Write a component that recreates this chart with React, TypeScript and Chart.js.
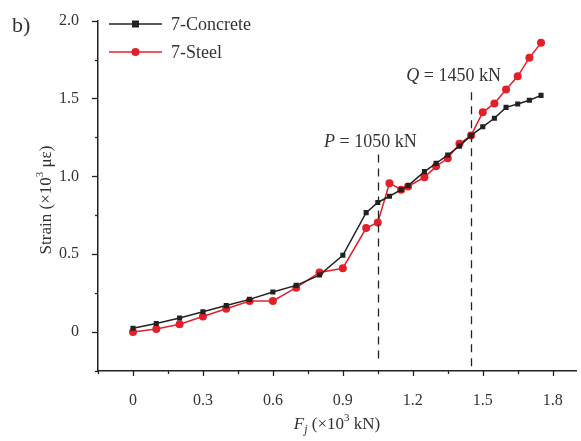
import React, { useEffect, useRef } from 'react';
import { Chart, registerables } from 'chart.js';

Chart.register(...registerables);

// Load F_j (x10^3 kN)
const loads = [0, 0.1, 0.2, 0.3, 0.4, 0.5, 0.6, 0.7, 0.8, 0.9, 1.0, 1.05, 1.1, 1.15, 1.18, 1.25, 1.3, 1.35, 1.4, 1.45, 1.5, 1.55, 1.6, 1.65, 1.7, 1.75];
// Strain (x10^3 microstrain)
const concrete = [0.025, 0.055, 0.09, 0.13, 0.17, 0.21, 0.257, 0.3, 0.366, 0.493, 0.767, 0.832, 0.872, 0.914, 0.941, 1.03, 1.083, 1.137, 1.194, 1.263, 1.318, 1.373, 1.443, 1.464, 1.489, 1.52];
const steel = [0.0, 0.02, 0.05, 0.1, 0.15, 0.2, 0.2, 0.285, 0.383, 0.41, 0.668, 0.704, 0.956, 0.914, 0.935, 0.994, 1.064, 1.116, 1.209, 1.263, 1.411, 1.468, 1.558, 1.642, 1.762, 1.857];

const seriesNames = ['7-Concrete', '7-Steel'];
const xMajorTicks = [0, 0.3, 0.6, 0.9, 1.2, 1.5, 1.8];
const xMinorTicks = [-0.15, 0.15, 0.45, 0.75, 1.05, 1.35, 1.65];
const yMajorTicks = [0, 0.5, 1.0, 1.5, 2.0];
const yMinorTicks = [-0.25, 0.25, 0.75, 1.25, 1.75];
const xTickLabels = ['0', '0.3', '0.6', '0.9', '1.2', '1.5', '1.8'];
const yTickLabels = ['0', '0.5', '1.0', '1.5', '2.0'];

// Marker lines: load value, top strain, bottom strain
const markerLoads = [1.05, 1.45];
const markerTops = [1.14, 1.54];
const markerBottoms = [-0.17, -0.25];
const markerLetters = ['P', 'Q'];
const markerTexts = [' = 1050 kN', ' = 1450 kN'];
const markerLabelX = [1.018, 1.375];
const markerLabelY = [1.19, 1.61];

const FONT = '"Liberation Serif", "Times New Roman", serif';
const BLACK = '#222222';
const RED = '#e3202a';
const TEXT = '#333333';

const decorPlugin = {
  id: 'decor',
  afterDraw(chart: any) {
    const ctx = chart.ctx as CanvasRenderingContext2D;
    const xs = chart.scales.x;
    const ys = chart.scales.y;
    const area = chart.chartArea;
    ctx.save();
    // tick marks
    ctx.strokeStyle = BLACK;
    ctx.lineWidth = 1.3;
    const drawX = (v: number, len: number) => {
      const px = Math.round(xs.getPixelForValue(v)) + 0.5;
      ctx.beginPath();
      ctx.moveTo(px, area.bottom);
      ctx.lineTo(px, area.bottom + len);
      ctx.stroke();
    };
    const drawY = (v: number, len: number) => {
      const py = Math.round(ys.getPixelForValue(v)) + 0.5;
      ctx.beginPath();
      ctx.moveTo(area.left, py);
      ctx.lineTo(area.left - len, py);
      ctx.stroke();
    };
    xMajorTicks.forEach((v) => drawX(v, 5));
    xMinorTicks.forEach((v) => drawX(v, 3));
    yMajorTicks.forEach((v) => drawY(v, 6));
    yMinorTicks.forEach((v) => drawY(v, 3));

    // dashed marker lines
    ctx.setLineDash([8, 6]);
    ctx.lineWidth = 1.3;
    ctx.strokeStyle = BLACK;
    markerLoads.forEach((v, i) => {
      const px = Math.round(xs.getPixelForValue(v)) + 0.5;
      ctx.beginPath();
      ctx.moveTo(px, ys.getPixelForValue(markerTops[i]));
      ctx.lineTo(px, ys.getPixelForValue(markerBottoms[i]));
      ctx.stroke();
    });
    ctx.setLineDash([]);

    // marker labels
    ctx.fillStyle = TEXT;
    ctx.textBaseline = 'alphabetic';
    markerLoads.forEach((_, i) => {
      const italic = 'italic 18px ' + FONT;
      const normal = '18px ' + FONT;
      ctx.font = italic;
      const w1 = ctx.measureText(markerLetters[i]).width;
      ctx.font = normal;
      const w2 = ctx.measureText(markerTexts[i]).width;
      const cx = xs.getPixelForValue(markerLabelX[i]);
      const by = ys.getPixelForValue(markerLabelY[i]);
      const x0 = cx - (w1 + w2) / 2;
      ctx.textAlign = 'left';
      ctx.font = italic;
      ctx.fillText(markerLetters[i], x0, by);
      ctx.font = normal;
      ctx.fillText(markerTexts[i], x0 + w1, by);
    });

    // legend
    const legendRows = [
      { y: 24, color: BLACK, style: 'rect' },
      { y: 52, color: RED, style: 'circle' },
    ];
    legendRows.forEach((r, i) => {
      ctx.strokeStyle = r.color;
      ctx.fillStyle = r.color;
      ctx.lineWidth = 1.5;
      ctx.beginPath();
      ctx.moveTo(109, r.y);
      ctx.lineTo(162, r.y);
      ctx.stroke();
      if (r.style === 'rect') {
        ctx.fillRect(135.5 - 3.5, r.y - 3.5, 7, 7);
      } else {
        ctx.beginPath();
        ctx.arc(135.5, r.y, 4, 0, Math.PI * 2);
        ctx.fill();
      }
      ctx.fillStyle = TEXT;
      ctx.font = '18px ' + FONT;
      ctx.textAlign = 'left';
      ctx.textBaseline = 'middle';
      ctx.fillText(seriesNames[i], 171, r.y + 1);
    });

    // panel label
    ctx.fillStyle = TEXT;
    ctx.font = '22px ' + FONT;
    ctx.textAlign = 'left';
    ctx.textBaseline = 'alphabetic';
    ctx.fillText('b)', 12, 32);

    // x axis title: F_j (×10^3 kN)
    {
      const parts = [
        { t: 'F', f: 'italic 17px ' + FONT, dy: 0 },
        { t: 'j', f: 'italic 12px ' + FONT, dy: 4 },
        { t: ' (×10', f: '17px ' + FONT, dy: 0 },
        { t: '3', f: '11px ' + FONT, dy: -8 },
        { t: ' kN)', f: '17px ' + FONT, dy: 0 },
      ];
      let total = 0;
      const widths = parts.map((p) => {
        ctx.font = p.f;
        const w = ctx.measureText(p.t).width;
        total += w;
        return w;
      });
      let x = (area.left + area.right) / 2 - total / 2;
      const by = 429;
      ctx.textAlign = 'left';
      parts.forEach((p, i) => {
        ctx.font = p.f;
        ctx.fillText(p.t, x, by + p.dy);
        x += widths[i];
      });
    }

    // y axis title: Strain (×10^3 με)
    {
      const parts = [
        { t: 'Strain (×10', f: '17px ' + FONT, dy: 0 },
        { t: '3', f: '11px ' + FONT, dy: -8 },
        { t: ' με)', f: '17px ' + FONT, dy: 0 },
      ];
      let total = 0;
      const widths = parts.map((p) => {
        ctx.font = p.f;
        const w = ctx.measureText(p.t).width;
        total += w;
        return w;
      });
      ctx.save();
      ctx.translate(51, 200);
      ctx.rotate(-Math.PI / 2);
      let x = -total / 2;
      ctx.textAlign = 'left';
      parts.forEach((p, i) => {
        ctx.font = p.f;
        ctx.fillText(p.t, x, p.dy);
        x += widths[i];
      });
      ctx.restore();
    }
    ctx.restore();
  },
};

function fmt(list: number[], labels: string[], v: number) {
  const i = list.findIndex((t) => Math.abs(t - v) < 1e-6);
  return i >= 0 ? labels[i] : '';
}

export default function App() {
  const ref = useRef<HTMLCanvasElement | null>(null);
  useEffect(() => {
    if (!ref.current) return;
    const chart = new Chart(ref.current, {
      type: 'line',
      data: {
        datasets: [
          {
            label: seriesNames[0],
            data: loads.map((x, i) => ({ x, y: concrete[i] })),
            borderColor: BLACK,
            backgroundColor: BLACK,
            borderWidth: 1.5,
            pointStyle: 'rect',
            pointRadius: 3.6,
            pointBorderWidth: 0,
          },
          {
            label: seriesNames[1],
            data: loads.map((x, i) => ({ x, y: steel[i] })),
            borderColor: RED,
            backgroundColor: RED,
            borderWidth: 1.5,
            pointStyle: 'circle',
            pointRadius: 4,
            pointBorderWidth: 0,
          },
        ],
      },
      options: {
        responsive: false,
        animation: false,
        layout: { padding: { top: 14, right: 5, left: 0, bottom: 0 } },
        plugins: { legend: { display: false }, tooltip: { enabled: false } },
        scales: {
          x: {
            type: 'linear',
            min: -0.15,
            max: 1.9,
            afterBuildTicks: (s: any) => {
              s.ticks = [...xMinorTicks, ...xMajorTicks].sort((a, b) => a - b).map((v) => ({ value: v }));
            },
            afterFit: (s: any) => {
              s.height = 70;
            },
            ticks: {
              autoSkip: false,
              maxRotation: 0,
              padding: 12,
              color: TEXT,
              font: { family: FONT, size: 16 },
              callback: (v: any) => fmt(xMajorTicks, xTickLabels, Number(v)),
            },
            grid: { display: false },
            border: { display: true, color: BLACK, width: 1.5 },
          },
          y: {
            type: 'linear',
            min: -0.25,
            max: 2.0,
            afterBuildTicks: (s: any) => {
              s.ticks = [...yMinorTicks, ...yMajorTicks].sort((a, b) => a - b).map((v) => ({ value: v }));
            },
            afterFit: (s: any) => {
              s.width = 98;
            },
            ticks: {
              autoSkip: false,
              padding: 11,
              color: TEXT,
              font: { family: FONT, size: 16 },
              callback: (v: any) => fmt(yMajorTicks, yTickLabels, Number(v)),
            },
            grid: { display: false },
            border: { display: true, color: BLACK, width: 1.5 },
          },
        },
      },
      plugins: [decorPlugin],
    } as any);
    return () => chart.destroy();
  }, []);
  return (
    <div style={{ position: 'fixed', left: 0, top: 0, width: 581, height: 441, background: '#fff' }}>
      <canvas ref={ref} width={581} height={441} style={{ display: 'block' }} />
    </div>
  );
}
